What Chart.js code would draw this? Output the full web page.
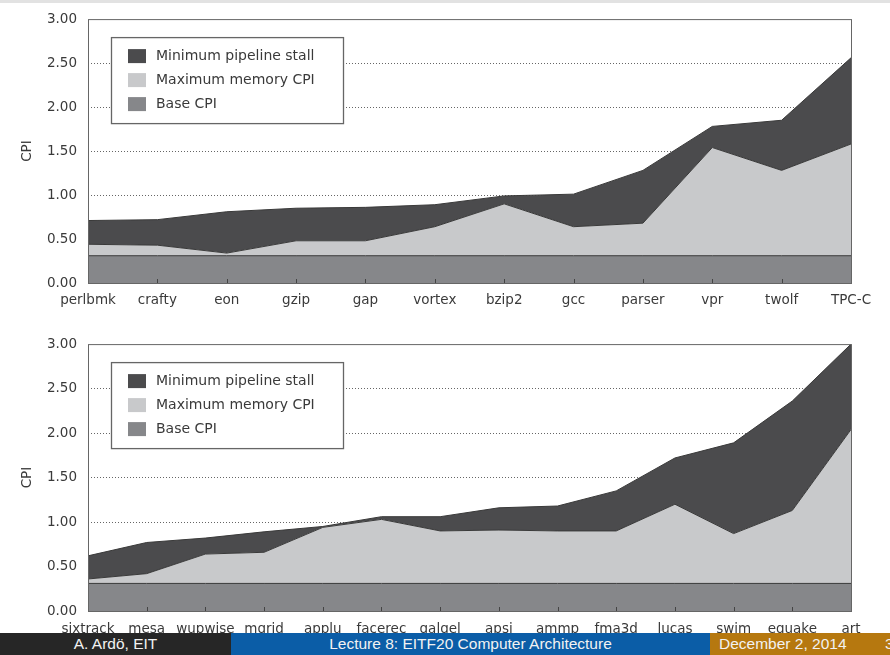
<!DOCTYPE html>
<html>
<head>
<meta charset="utf-8">
<script src="https://cdn.jsdelivr.net/npm/chart.js@4.4.1/dist/chart.umd.min.js"></script>
<style>
body { margin:0; width:890px; height:655px; background:#fff; position:relative; overflow:hidden; }
.box { position:absolute; left:0; width:890px; }
#topBox { top:0; height:312px; }
#bottomBox { top:325px; height:320px; }
.strip { position:absolute; left:0; top:0; width:890px; height:3px; background:#e2e2e2; }
.foot { position:absolute; top:633px; height:22px; line-height:22px; color:#f2f2f2;
        font-family:"Liberation Sans", Arial, sans-serif; font-size:15.5px; text-align:center; z-index:2; }
</style>
</head>
<body>
<div class="strip"></div>
<div class="box" id="topBox"><canvas id="topChart"></canvas></div>
<div class="box" id="bottomBox"><canvas id="bottomChart"></canvas></div>
<div class="foot" style="left:0;width:231px;background:#262626;">A. Ardö, EIT</div>
<div class="foot" style="left:231px;width:479px;background:#0b5da7;">Lecture 8: EITF20 Computer Architecture</div>
<div class="foot" style="left:710px;width:180px;background:#b6780f;text-align:left;">
  <span style="position:absolute;left:9px;">December 2, 2014</span>
  <span style="position:absolute;left:175px;">3</span>
</div>
<script>
// top: SPECint2000 + TPC-C
const topLabels = ["perlbmk", "crafty", "eon", "gzip", "gap", "vortex", "bzip2", "gcc", "parser", "vpr", "twolf", "TPC-C"];
const topBase   = [0.31, 0.31, 0.31, 0.31, 0.31, 0.31, 0.31, 0.31, 0.31, 0.31, 0.31, 0.31];
const topMemory = [0.13, 0.12, 0.03, 0.17, 0.17, 0.33, 0.59, 0.33, 0.37, 1.23, 0.97, 1.27];
const topStall  = [0.27, 0.29, 0.47, 0.37, 0.38, 0.25, 0.09, 0.37, 0.60, 0.24, 0.57, 0.98];

// bottom: SPECfp2000
const bottomLabels = ["sixtrack", "mesa", "wupwise", "mgrid", "applu", "facerec", "galgel", "apsi", "ammp", "fma3d", "lucas", "swim", "equake", "art"];
const bottomBase   = [0.31, 0.31, 0.31, 0.31, 0.31, 0.31, 0.31, 0.31, 0.31, 0.31, 0.31, 0.31, 0.31, 0.31];
const bottomMemory = [0.05, 0.11, 0.33, 0.35, 0.63, 0.72, 0.59, 0.60, 0.59, 0.59, 0.89, 0.56, 0.82, 1.73];
const bottomStall  = [0.26, 0.35, 0.18, 0.23, 0.01, 0.03, 0.16, 0.25, 0.28, 0.45, 0.52, 1.02, 1.23, 0.96];

const seriesNames = ["Base CPI", "Maximum memory CPI", "Minimum pipeline stall"];

const BASE = "#86878a";
const MEMORY = "#c8c9cb";
const STALL = "#4b4b4d";
const TEXT = "#3a3a3a";
const FONT = "DejaVu Sans";

// box round the plot + small inner ticks on the x axis
const frame = {
    id: "frame",
    afterDatasetsDraw(chart) {
        const {ctx, chartArea: a} = chart;
        const xs = chart.scales.x;
        ctx.save();
        ctx.strokeStyle = "#666";
        ctx.lineWidth = 1;
        ctx.strokeRect(a.left + 0.5, a.top + 0.5, a.right - a.left, a.bottom - a.top);
        ctx.strokeStyle = "#444";
        for (let i = 1; i < xs.ticks.length - 1; i++) {
            const px = Math.round(xs.getPixelForTick(i)) + 0.5;
            ctx.beginPath();
            ctx.moveTo(px, a.bottom);
            ctx.lineTo(px, a.bottom - 4);
            ctx.stroke();
        }
        ctx.restore();
    }
};

// legend drawn as a framed box inside the plot
const boxLegend = {
    id: "boxLegend",
    afterDraw(chart) {
        const {ctx, chartArea: a} = chart;
        const x = a.left + 23, y = a.top + 18;
        ctx.save();
        ctx.fillStyle = "#fff";
        ctx.fillRect(x, y, 232, 86);
        ctx.strokeStyle = "#666";
        ctx.lineWidth = 1.3;
        ctx.strokeRect(x + 0.5, y + 0.5, 232, 86);
        ctx.font = "14px '" + FONT + "'";
        ctx.textBaseline = "middle";
        chart.data.datasets.slice().reverse().forEach((ds, i) => {
            const cy = y + 19 + i * 24;
            ctx.fillStyle = ds.backgroundColor;
            ctx.fillRect(x + 17, cy - 7, 18, 14);
            ctx.fillStyle = TEXT;
            ctx.fillText(ds.label, x + 45, cy);
        });
        ctx.restore();
    }
};

function area(label, data, color, fill) {
    return {
        label: label,
        data: data,
        backgroundColor: color,
        borderColor: "#3a3a3a",
        borderWidth: 1,
        pointRadius: 0,
        tension: 0,
        fill: fill
    };
}

function makeChart(id, labels, base, memory, stall, padTop, xHeight, labelPad) {
    return new Chart(document.getElementById(id), {
        type: "line",
        data: {
            labels: labels,
            datasets: [
                area(seriesNames[0], base, BASE, "origin"),
                area(seriesNames[1], memory, MEMORY, "-1"),
                area(seriesNames[2], stall, STALL, "-1")
            ]
        },
        plugins: [frame, boxLegend],
        options: {
            responsive: true,
            maintainAspectRatio: false,
            animation: false,
            layout: { padding: { top: padTop, right: 39, left: 0, bottom: 0 } },
            plugins: {
                legend: { display: false },
                tooltip: { enabled: false }
            },
            scales: {
                x: {
                    offset: false,
                    grid: { display: false, drawTicks: false },
                    border: { display: false },
                    ticks: {
                        autoSkip: false,
                        maxRotation: 0,
                        minRotation: 0,
                        padding: labelPad,
                        color: TEXT,
                        font: { family: FONT, size: 13.5 }
                    },
                    afterFit(s) { s.height = xHeight; }
                },
                y: {
                    stacked: true,
                    min: 0,
                    max: 3,
                    grid: {
                        drawTicks: false,
                        lineWidth: 1,
                        color: c => (c.tick.value > 0 && c.tick.value < 3) ? "#666" : "rgba(0,0,0,0)"
                    },
                    border: { display: false, dash: [1, 2] },
                    ticks: {
                        stepSize: 0.5,
                        padding: 11,
                        color: TEXT,
                        font: { family: FONT, size: 13.5 },
                        callback: v => Number(v).toFixed(2)
                    },
                    title: {
                        display: true,
                        text: "CPI",
                        color: TEXT,
                        padding: { top: 19, bottom: 0 },
                        font: { family: FONT, size: 13.5 }
                    },
                    afterFit(s) { s.width = 88; }
                }
            }
        }
    });
}

makeChart("topChart", topLabels, topBase, topMemory, topStall, 12, 29, 9);
makeChart("bottomChart", bottomLabels, bottomBase, bottomMemory, bottomStall, 16, 34, 10);
</script>
</body>
</html>
